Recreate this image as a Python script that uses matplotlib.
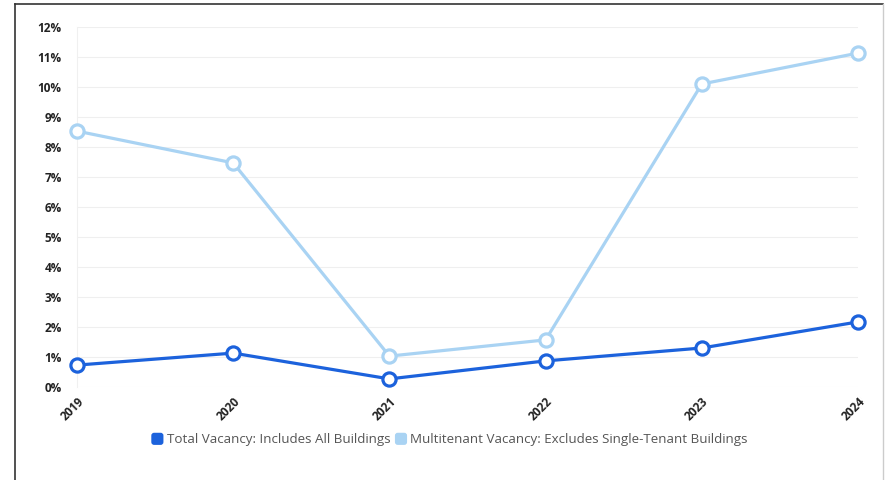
import matplotlib
matplotlib.use("Agg")
import matplotlib.pyplot as plt
from matplotlib.lines import Line2D
from matplotlib.patches import FancyBboxPatch
from matplotlib.legend_handler import HandlerPatch

years = ["2019", "2020", "2021", "2022", "2023", "2024"]
total_vacancy = [0.73, 1.13, 0.27, 0.87, 1.30, 2.17]
multi_vacancy = [8.53, 7.47, 1.03, 1.57, 10.10, 11.13]
y_ticks = list(range(0, 13))

dark_blue = "#1c62dc"
light_blue = "#a9d3f3"

plt.rcParams["font.family"] = ["Open Sans", "DejaVu Sans"]

fig = plt.figure(figsize=(8.86, 4.8), dpi=100)
ax = fig.add_axes([77 / 886, 1 - 387 / 480, (858 - 77) / 886, 360 / 480])

x = list(range(len(years)))
ax.plot(x, multi_vacancy, color=light_blue, lw=2.3, marker="o", ms=9.5,
        mfc="white", mec=light_blue, mew=2.3, clip_on=False, zorder=3)
ax.plot(x, total_vacancy, color=dark_blue, lw=2.3, marker="o", ms=9.5,
        mfc="white", mec=dark_blue, mew=2.3, clip_on=False, zorder=4)

ax.set_xlim(0, len(years) - 1)
ax.set_ylim(0, 12)
ax.set_yticks(y_ticks)
ax.set_yticklabels([f"{v}%" for v in y_ticks], fontsize=8.5, fontweight="bold", color="#222222")
ax.set_xticks(x)
ax.set_xticklabels(years, fontsize=8.5, fontweight="bold", color="#222222",
                   rotation=45, ha="right", rotation_mode="anchor")
ax.tick_params(length=0, pad=11)
ax.tick_params(axis="x", pad=6)
ax.grid(axis="y", color="#efefef", lw=0.8)
for side in ["top", "right", "bottom"]:
    ax.spines[side].set_visible(False)
ax.spines["left"].set_color("#f0f0f0")
ax.spines["left"].set_linewidth(0.8)


class RoundSquare(HandlerPatch):
    def create_artists(self, legend, orig_handle, xdescent, ydescent, width, height, fontsize, trans):
        s = height * 1.3
        p = FancyBboxPatch((xdescent + width - s, ydescent + (height - s) / 2), s, s,
                           boxstyle="round,pad=0,rounding_size=2",
                           facecolor=orig_handle.get_color(), edgecolor="none", transform=trans)
        return [p]


handles = [Line2D([], [], color=dark_blue), Line2D([], [], color=light_blue)]
labels = ["Total Vacancy: Includes All Buildings",
          "Multitenant Vacancy: Excludes Single-Tenant Buildings"]
fig.legend(handles, labels, loc="center", bbox_to_anchor=(449 / 886, 1 - 440 / 480),
           ncol=2, frameon=False, fontsize=9.6, labelcolor="#555555",
           handler_map={Line2D: RoundSquare()}, handlelength=1.0, handletextpad=0.25,
           columnspacing=0.25)

# outer frame
fig.add_artist(Line2D([15 / 886, 15 / 886], [0, 1 - 4 / 480], color="#333333", lw=1.2,
                      transform=fig.transFigure))
fig.add_artist(Line2D([15 / 886, 883 / 886], [1 - 4 / 480, 1 - 4 / 480], color="#333333", lw=1.2,
                      transform=fig.transFigure))
fig.add_artist(Line2D([883 / 886, 883 / 886], [0, 1 - 4 / 480], color="#cccccc", lw=1.0,
                      transform=fig.transFigure))

fig.savefig("out.png", dpi=100)
